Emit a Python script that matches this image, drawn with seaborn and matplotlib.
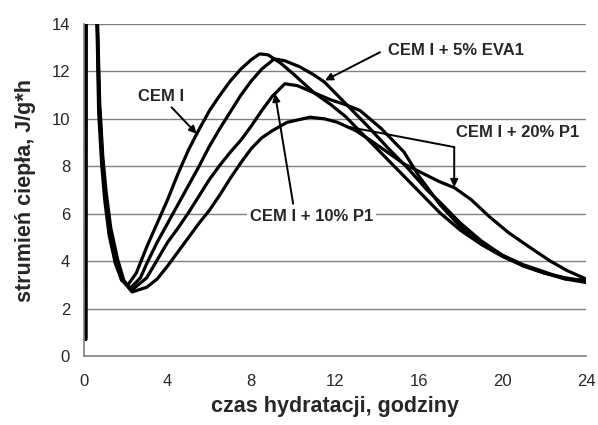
import numpy as np
import pandas as pd
import seaborn as sns
import matplotlib.pyplot as plt

# heat flow curves (hours, J/g*h)
# the first three points are the mixing spike, it leaves the plot at the top
t_cem = [0.08, 0.1, 0.55, 0.62, 0.7, 0.85, 1.0, 1.2, 1.5, 1.8, 2.1, 2.5, 3.0, 3.5, 4.0, 4.5, 5.0, 5.5,
         6.0, 6.5, 7.0, 7.5, 8.0, 8.4, 8.8, 9.4, 10.0, 10.5, 11.0, 11.8, 12.5, 13.0, 14.0, 15.0,
         16.0, 17.0, 18.0, 19.0, 20.0, 21.0, 22.0, 23.0, 24.0]
q_cem = [0.7, 30, 30, 14, 10.3, 8.0, 6.5, 5.1, 3.9, 3.2, 3.0, 3.5, 4.6, 5.6, 6.6, 7.7, 8.7, 9.55,
         10.35, 11.0, 11.6, 12.1, 12.5, 12.74, 12.7, 12.35, 11.9, 11.5, 11.1, 10.6, 10.1, 9.65,
         8.75, 7.85, 6.95, 6.05, 5.3, 4.7, 4.2, 3.8, 3.5, 3.25, 3.1]

t_eva = [0.08, 0.1, 0.55, 0.63, 0.72, 0.87, 1.02, 1.22, 1.5, 1.8, 2.2, 2.7, 3.0, 3.5, 4.0, 4.5, 5.0, 5.5,
         6.0, 6.5, 7.0, 7.5, 8.0, 8.5, 9.1, 9.6, 10.3, 11.0, 11.5, 12.5, 13.5, 14.5, 15.5, 16.4,
         17.0, 18.0, 19.0, 20.0, 21.0, 22.0, 23.0, 24.0]
q_eva = [0.7, 30, 30, 14, 10.5, 8.2, 6.7, 5.2, 4.0, 3.2, 2.85, 3.3, 3.9, 4.8, 5.6, 6.4, 7.2, 8.0,
         8.85, 9.6, 10.3, 11.0, 11.6, 12.1, 12.53, 12.45, 12.2, 11.85, 11.55, 10.65, 9.75, 8.8,
         7.9, 7.0, 6.5, 5.6, 4.85, 4.25, 3.8, 3.5, 3.3, 3.15]

t_p10 = [0.08, 0.1, 0.55, 0.64, 0.73, 0.88, 1.04, 1.25, 1.55, 1.85, 2.25, 3.0, 3.5, 4.0, 4.5, 5.0, 5.5, 6.0,
         6.5, 7.0, 7.5, 8.0, 8.5, 9.0, 9.6, 10.2, 11.0, 11.8, 12.5, 13.2, 14.2, 15.3, 16.0, 17.0,
         18.0, 19.0, 20.0, 21.0, 22.0, 23.0, 24.0]
q_p10 = [0.7, 30, 30, 14, 10.6, 8.3, 6.8, 5.3, 4.0, 3.2, 2.75, 3.3, 4.05, 4.8, 5.4, 6.05, 6.75, 7.45,
         8.05, 8.6, 9.1, 9.7, 10.35, 10.95, 11.48, 11.4, 11.1, 10.8, 10.6, 10.35, 9.6, 8.6, 7.6,
         6.4, 5.45, 4.75, 4.25, 3.85, 3.55, 3.25, 3.2]

t_p20 = [0.08, 0.1, 0.55, 0.65, 0.75, 0.9, 1.06, 1.28, 1.6, 1.9, 2.3, 3.0, 3.5, 4.0, 4.5, 5.0, 5.5, 6.0,
         6.5, 7.0, 7.5, 8.0, 8.5, 9.0, 9.7, 10.8, 11.5, 12.1, 13.0, 13.7, 14.5, 15.3, 16.2, 17.0,
         17.7, 18.5, 19.4, 20.3, 21.3, 22.3, 23.1, 24.0]
q_p20 = [0.7, 30, 30, 14, 10.7, 8.4, 6.9, 5.4, 4.1, 3.2, 2.7, 2.9, 3.25, 3.8, 4.4, 5.0, 5.6, 6.15,
         6.8, 7.5, 8.15, 8.75, 9.2, 9.5, 9.85, 10.07, 10.0, 9.86, 9.5, 9.09, 8.6, 8.1, 7.7, 7.35,
         7.1, 6.6, 5.86, 5.2, 4.59, 4.0, 3.6, 3.25]

series = ["CEM I", "CEM I + 5% EVA1", "CEM I + 10% P1", "CEM I + 20% P1"]
x_ticks = [0, 4, 8, 12, 16, 20, 24]
y_ticks = [0, 2, 4, 6, 8, 10, 12, 14]

frames = []
for name, t, q in zip(series, [t_cem, t_eva, t_p10, t_p20], [q_cem, q_eva, q_p10, q_p20]):
    frames.append(pd.DataFrame({"t": t, "q": q, "series": name}))
df = pd.concat(frames, ignore_index=True)

sns.set_style("white")
plt.rcParams['font.family'] = ['Liberation Sans', 'DejaVu Sans']

fig = plt.figure(figsize=(5.98, 4.25), dpi=100)
ax = fig.add_axes([84 / 598, 1 - 356 / 425, 502 / 598, 332 / 425])

sns.lineplot(data=df, x="t", y="q", hue="series", units="series", estimator=None,
             palette=["black"] * 4, linewidth=2.3, legend=False, sort=False, ax=ax)

ax.set_xlim(0, 24)
ax.set_ylim(0, 14)
ax.set_xticks(x_ticks)
ax.set_yticks(y_ticks)
ax.yaxis.grid(True, color="#808080", linewidth=1)
ax.xaxis.grid(False)
ax.set_axisbelow(True)
for s in ["top", "right"]:
    ax.spines[s].set_visible(False)
for s in ["left", "bottom"]:
    ax.spines[s].set_color("#808080")
    ax.spines[s].set_linewidth(1.2)
ax.tick_params(axis="both", direction="out", length=4, width=1, color="#808080",
               labelsize=12)
ax.tick_params(axis="x", pad=9)
ax.tick_params(axis="y", pad=6)

ax.set_xlabel("czas hydratacji, godziny", fontsize=15.5, fontweight="bold", labelpad=5)
ax.set_ylabel("strumień ciepła, J/g*h", fontsize=15.5, fontweight="bold", labelpad=11)

arrow = dict(arrowstyle="-|>", color="black", lw=1.4, mutation_scale=11, shrinkA=0, shrinkB=0)
ax.annotate("CEM I", xy=(5.39, 9.37), xytext=(3.7, 10.94), fontsize=12, fontweight="bold",
            ha="center", va="center", arrowprops=arrow)
ax.annotate("", xy=(11.52, 11.62), xytext=(14.15, 12.81), arrowprops=arrow)
ax.text(17.78, 12.88, "CEM I + 5% EVA1", fontsize=12, fontweight="bold", ha="center", va="center")
ax.annotate("", xy=(9.13, 11.06), xytext=(10.0, 6.42), arrowprops=arrow)
ax.text(10.88, 5.9, "CEM I + 10% P1", fontsize=12, fontweight="bold", ha="center", va="center",
        bbox=dict(facecolor="white", edgecolor="none", pad=2))
ax.plot([12.71, 17.7], [9.65, 8.81], color="black", lw=1.4)
ax.annotate("", xy=(17.7, 7.12), xytext=(17.7, 8.81), arrowprops=arrow)
ax.text(20.72, 9.44, "CEM I + 20% P1", fontsize=12, fontweight="bold", ha="center", va="center")

fig.savefig("out.png", dpi=100)
